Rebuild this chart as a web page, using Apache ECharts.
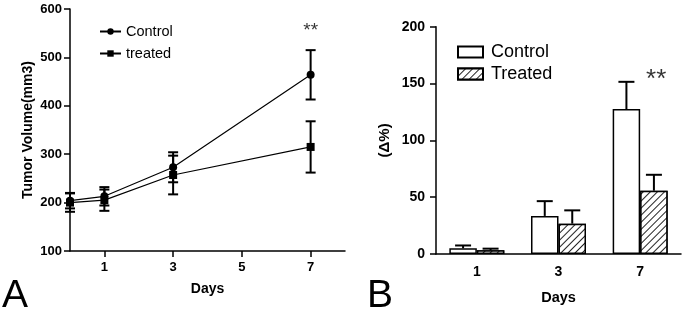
<!DOCTYPE html>
<html>
<head>
<meta charset="utf-8">
<script src="https://cdn.jsdelivr.net/npm/echarts@6/dist/echarts.min.js"></script>
<style>html,body{margin:0;padding:0;background:#fff}#c{width:685px;height:316px}</style>
</head>
<body>
<div id="c"></div>
<script>
// Panel A: tumor volume (mm3) over days
var daysA = [0, 1, 3, 7];
var ctrlVol = [204, 213, 273, 464];
var ctrlVolErr = [16, 19, 31, 51];
var treatVol = [200, 205, 257, 315];
var treatVolErr = [19, 22, 40, 53];
var xTicksA = [1, 3, 5, 7];

// Panel B: change (%)
var daysB = ['1', '3', '7'];
var ctrlPct = [5, 33.5, 127.5];
var ctrlPctErr = [2.5, 13, 24];
var treatPct = [3.3, 26.7, 55.7];
var treatPctErr = [1.4, 11.7, 14];

var FONT = 'Liberation Sans, Arial, sans-serif';
var chart = echarts.init(document.getElementById('c'), null, {renderer: 'canvas'});

function pairs(xs, ys) { return xs.map(function (x, i) { return [x, ys[i]]; }); }
function errA(xs, m, e) { return xs.map(function (x, i) { return [x, m[i] - e[i], m[i] + e[i]]; }); }
function errB(m, e) { return m.map(function (v, i) { return [i, v, v + e[i]]; }); }

function renderErrA(params, api) {
  var lo = api.coord([api.value(0), api.value(1)]);
  var hi = api.coord([api.value(0), api.value(2)]);
  var hw = 5, st = {stroke: '#000', lineWidth: 2};
  return {type: 'group', children: [
    {type: 'line', shape: {x1: lo[0], y1: lo[1], x2: hi[0], y2: hi[1]}, style: st},
    {type: 'line', shape: {x1: lo[0] - hw, y1: lo[1], x2: lo[0] + hw, y2: lo[1]}, style: st},
    {type: 'line', shape: {x1: hi[0] - hw, y1: hi[1], x2: hi[0] + hw, y2: hi[1]}, style: st}
  ]};
}
function makeErrB(offset) {
  return function (params, api) {
    var lo = api.coord([api.value(0), api.value(1)]);
    var hi = api.coord([api.value(0), api.value(2)]);
    var x = lo[0] + offset, hw = 8, st = {stroke: '#000', lineWidth: 2};
    return {type: 'group', children: [
      {type: 'line', shape: {x1: x, y1: lo[1], x2: x, y2: hi[1]}, style: st},
      {type: 'line', shape: {x1: x - hw, y1: hi[1], x2: x + hw, y2: hi[1]}, style: st}
    ]};
  };
}

var axisLine = {lineStyle: {color: '#000', width: 1.5}};
var hatch = {symbol: 'rect', color: '#222', backgroundColor: '#fff', dashArrayX: [1, 0], dashArrayY: [0.9, 3.2], rotation: -Math.PI / 4};

var option = {
  animation: false,
  backgroundColor: '#fff',
  textStyle: {fontFamily: FONT, color: '#000'},
  grid: [
    {left: 70, top: 9, width: 275, height: 242, outerBoundsMode: 'none', containLabel: false},
    {left: 436, top: 26.7, width: 245, height: 227.3, outerBoundsMode: 'none', containLabel: false}
  ],
  legend: [
    {
      data: ['Control', 'treated'], orient: 'vertical', left: 94, top: 19, itemWidth: 21, itemHeight: 8, itemGap: 7,
      textStyle: {fontSize: 14.5, fontFamily: FONT, color: '#000', padding: [0, 0, 0, 0]}
    },
    {
      data: ['Control ', 'Treated'], orient: 'vertical', left: 452, top: 38, itemWidth: 25, itemHeight: 11, itemGap: 4,
      icon: 'rect',
      textStyle: {fontSize: 18, fontFamily: FONT, color: '#000', padding: [0, 0, 0, 3]}
    }
  ],
  xAxis: [
    {
      type: 'value', gridIndex: 0, min: 0, max: 8, axisLine: axisLine, splitLine: {show: false},
      axisTick: {customValues: xTicksA, length: 6, lineStyle: {color: '#000', width: 1.5}},
      axisLabel: {customValues: xTicksA, margin: 10, fontSize: 13, fontWeight: 'bold', color: '#000', fontFamily: FONT},
      name: 'Days', nameLocation: 'middle', nameGap: 31,
      nameTextStyle: {fontSize: 14, fontWeight: 'bold', color: '#000', fontFamily: FONT}
    },
    {
      type: 'category', gridIndex: 1, data: daysB, axisLine: axisLine,
      axisTick: {alignWithLabel: true, length: 6, lineStyle: {color: '#000', width: 1.5}},
      axisLabel: {margin: 11, fontSize: 14, fontWeight: 'bold', color: '#000', fontFamily: FONT},
      name: 'Days', nameLocation: 'middle', nameGap: 36,
      nameTextStyle: {fontSize: 14.5, fontWeight: 'bold', color: '#000', fontFamily: FONT}
    }
  ],
  yAxis: [
    {
      type: 'value', gridIndex: 0, min: 100, max: 600, interval: 100, axisLine: {show: true, lineStyle: {color: '#000', width: 1.5}},
      splitLine: {show: false}, axisTick: {show: true, length: 6, lineStyle: {color: '#000', width: 1.5}},
      axisLabel: {margin: 8, fontSize: 13, fontWeight: 'bold', color: '#000', fontFamily: FONT},
      name: 'Tumor Volume(mm3)', nameLocation: 'middle', nameGap: 35, nameRotate: 90,
      nameTextStyle: {fontSize: 14, fontWeight: 'bold', color: '#000', fontFamily: FONT}
    },
    {
      type: 'value', gridIndex: 1, min: 0, max: 200, interval: 50, axisLine: {show: true, lineStyle: {color: '#000', width: 1.5}},
      splitLine: {show: false}, axisTick: {show: true, length: 6, lineStyle: {color: '#000', width: 1.5}},
      axisLabel: {margin: 11, fontSize: 14, fontWeight: 'bold', color: '#000', fontFamily: FONT},
      name: '(\u0394%)', nameLocation: 'middle', nameGap: 44, nameRotate: 90,
      nameTextStyle: {fontSize: 15, fontWeight: 'bold', color: '#000', fontFamily: FONT}
    }
  ],
  series: [
    {type: 'custom', name: 'errCtrlA', xAxisIndex: 0, yAxisIndex: 0, renderItem: renderErrA, encode: {x: 0, y: [1, 2]}, data: errA(daysA, ctrlVol, ctrlVolErr), z: 2},
    {type: 'custom', name: 'errTreatA', xAxisIndex: 0, yAxisIndex: 0, renderItem: renderErrA, encode: {x: 0, y: [1, 2]}, data: errA(daysA, treatVol, treatVolErr), z: 2},
    {type: 'line', name: 'Control', xAxisIndex: 0, yAxisIndex: 0, data: pairs(daysA, ctrlVol), symbol: 'circle', symbolSize: 8,
      lineStyle: {color: '#000', width: 1.2}, itemStyle: {color: '#000'}, z: 3},
    {type: 'line', name: 'treated', xAxisIndex: 0, yAxisIndex: 0, data: pairs(daysA, treatVol), symbol: 'rect', symbolSize: 8,
      lineStyle: {color: '#000', width: 1.2}, itemStyle: {color: '#000'}, z: 3},
    {type: 'scatter', name: 'sigA', xAxisIndex: 0, yAxisIndex: 0, data: [[7, 555]], symbolSize: 0, silent: true,
      label: {show: true, formatter: '**', position: 'inside', fontSize: 19, color: '#000', fontFamily: FONT}},
    {type: 'bar', name: 'Control ', xAxisIndex: 1, yAxisIndex: 1, data: ctrlPct, barWidth: 27.5, barGap: '0%',
      itemStyle: {color: '#fff', borderColor: '#000', borderWidth: 1.5}},
    {type: 'bar', name: 'Treated', xAxisIndex: 1, yAxisIndex: 1, data: treatPct, barWidth: 27.5, barGap: '0%',
      itemStyle: {color: '#fff', borderColor: '#000', borderWidth: 1.5, decal: hatch}},
    {type: 'custom', name: 'errCtrlB', xAxisIndex: 1, yAxisIndex: 1, renderItem: makeErrB(-13.75), encode: {x: 0, y: [1, 2]}, data: errB(ctrlPct, ctrlPctErr), z: 1},
    {type: 'custom', name: 'errTreatB', xAxisIndex: 1, yAxisIndex: 1, renderItem: makeErrB(13.75), encode: {x: 0, y: [1, 2]}, data: errB(treatPct, treatPctErr), z: 1},
    {type: 'scatter', name: 'sigB', xAxisIndex: 1, yAxisIndex: 1, data: [[2, 153]], symbolSize: 0, silent: true,
      label: {show: true, formatter: '**', position: 'inside', offset: [16, 0], fontSize: 26, color: '#000', fontFamily: FONT}}
  ],
  graphic: [
    {type: 'text', left: 2, top: 277, style: {text: 'A', fontSize: 39, fontFamily: FONT, fill: '#000'}},
    {type: 'text', left: 367, top: 277, style: {text: 'B', fontSize: 39, fontFamily: FONT, fill: '#000'}}
  ]
};
chart.setOption(option);
</script>
</body>
</html>
